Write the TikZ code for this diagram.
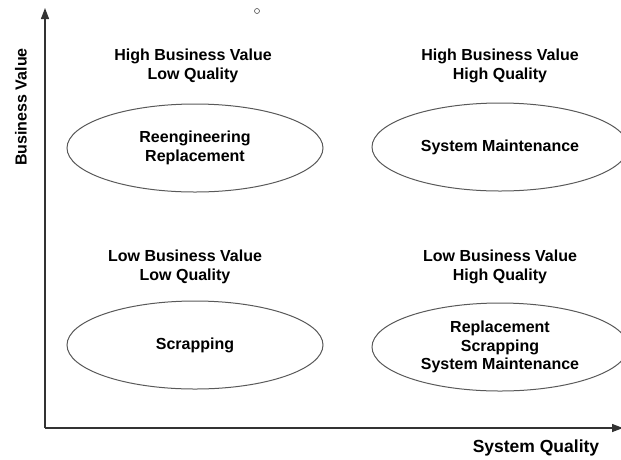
\documentclass[tikz,border=0pt]{standalone}
\usepackage{fontspec}
\setmainfont{Liberation Sans}
\usetikzlibrary{shapes.geometric,arrows.meta}
\begin{document}
\begin{tikzpicture}[x=1pt,y=-1pt,
  lbl/.style={font=\fontsize{16}{18.5}\selectfont\bfseries, align=center, text=black},
  oval/.style={ellipse, draw=black!65, line width=1pt, minimum width=256pt, minimum height=88pt, inner sep=0pt, align=center, font=\fontsize{16}{18.5}\selectfont\bfseries},
  axis/.style={draw=black!80, line width=1.3pt, -{Triangle[length=11pt,width=8pt]}}]
\useasboundingbox (0,0) rectangle (621,459);
\coordinate (o) at (45,428);
\coordinate (ytop) at (45,8);
\coordinate (xend) at (623,428);
\draw[axis] (o) -- (ytop);
\draw[axis] (o) -- (xend);
\node[lbl, rotate=90] (yl) at (21,107) {Business Value};
\node[lbl, font=\fontsize{17.5}{20}\selectfont\bfseries] (xl) at (536,448) {System Quality};
\node[draw=black!70, circle, inner sep=0pt, minimum size=5pt, line width=0.6pt] (dot) at (257,11) {};
\node[lbl] (q1) at (193,66) {High Business Value\\Low Quality};
\node[lbl] (q2) at (500,66) {High Business Value\\High Quality};
\node[lbl] (q3) at (185,267) {Low Business Value\\Low Quality};
\node[lbl] (q4) at (500,267) {Low Business Value\\High Quality};
\node[oval] (e1) at (195,148) {Reengineering\\Replacement};
\node[oval] (e2) at (500,147) {System Maintenance};
\node[oval] (e3) at (195,345) {Scrapping};
\node[oval] (e4) at (500,347) {Replacement\\Scrapping\\System Maintenance};
\end{tikzpicture}
\end{document}
